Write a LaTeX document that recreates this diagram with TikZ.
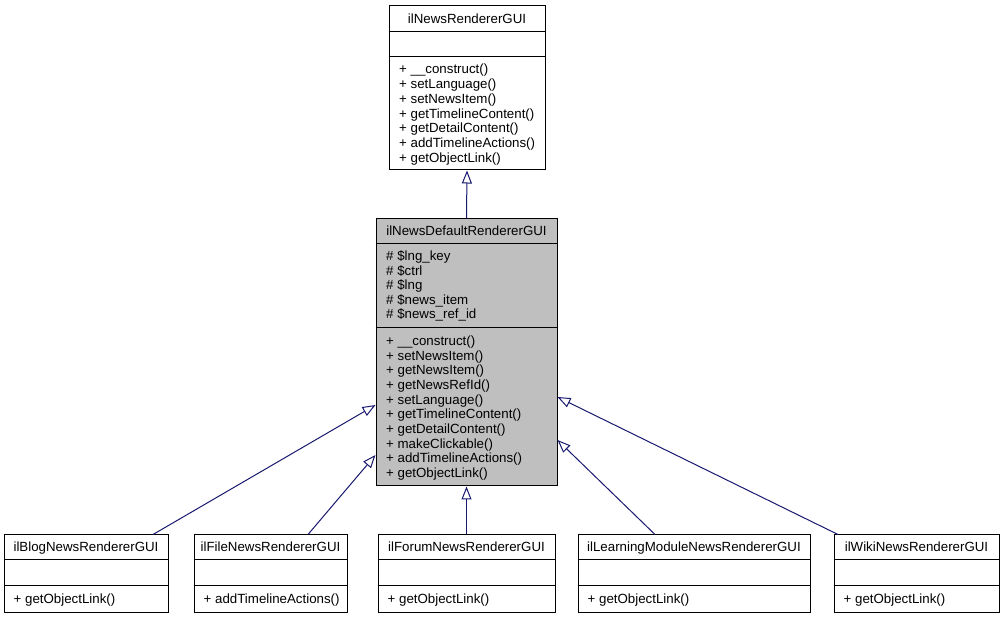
\documentclass[tikz,border=0pt]{standalone}
\usepackage{fontspec}
\setmainfont{Liberation Sans}
\usetikzlibrary{arrows.meta}
\definecolor{edgeblue}{HTML}{191970}
\definecolor{boxgray}{HTML}{BFBFBF}
\tikzset{
  cls/.style={draw=black, line width=1pt, fill=white, rectangle, inner sep=0pt},
  clsmain/.style={cls, fill=boxgray},
  ttl/.style={anchor=base, inner sep=0pt, font=\fontsize{13.3}{14.6}\selectfont},
  mem/.style={anchor=base west, inner sep=0pt, font=\fontsize{13.3}{14.6}\selectfont},
  sep/.style={draw=black, line width=1pt},
  inh/.style={draw=edgeblue, line width=1pt, -{Triangle[open, fill=white, length=13pt, width=10pt]}}
}
\begin{document}
\begin{tikzpicture}[x=1pt, y=-1pt]
\useasboundingbox[fill=white] (0,0) rectangle (1005,617);

% top class
\node[cls, minimum width=156pt, minimum height=164pt] (top) at (467,88) {};
\draw[sep] (top.west |- 0,32) -- (top.east |- 0,32);
\draw[sep] (top.west |- 0,57) -- (top.east |- 0,57);
\node[ttl] (top-t) at (467,23.5) {ilNewsRendererGUI};
\foreach \t [count=\i from 0] in {{+ \_\_construct()},{+ setLanguage()},{+ setNewsItem()},{+ getTimelineContent()},{+ getDetailContent()},{+ addTimelineActions()},{+ getObjectLink()}}
  \node[mem] (top-m\i) at (399,{74+14.67*\i}) {\t};

% middle class
\node[clsmain, minimum width=181pt, minimum height=267pt] (mid) at (466.5,352.5) {};
\draw[sep] (mid.west |- 0,244) -- (mid.east |- 0,244);
\draw[sep] (mid.west |- 0,328) -- (mid.east |- 0,328);
\node[ttl] (mid-t) at (466.5,236) {ilNewsDefaultRendererGUI};
\foreach \t [count=\i from 0] in {{\# \$lng\_key},{\# \$ctrl},{\# \$lng},{\# \$news\_item},{\# \$news\_ref\_id}}
  \node[mem] (mid-a\i) at (386,{261+14.5*\i}) {\t};
\foreach \t [count=\i from 0] in {{+ \_\_construct()},{+ setNewsItem()},{+ getNewsItem()},{+ getNewsRefId()},{+ setLanguage()},{+ getTimelineContent()},{+ getDetailContent()},{+ makeClickable()},{+ addTimelineActions()},{+ getObjectLink()}}
  \node[mem] (mid-m\i) at (386,{345.5+14.67*\i}) {\t};

% bottom classes
\foreach \n/\cx/\w/\ttxt/\mtxt in {
  blog/86/164/ilBlogNewsRendererGUI/{+ getObjectLink()},
  file/270.5/153/ilFileNewsRendererGUI/{+ addTimelineActions()},
  forum/466.5/177/ilForumNewsRendererGUI/{+ getObjectLink()},
  learn/694/232/ilLearningModuleNewsRendererGUI/{+ getObjectLink()},
  wiki/916.5/165/ilWikiNewsRendererGUI/{+ getObjectLink()}} {
  \node[cls, minimum width=\w pt, minimum height=77pt] (\n) at (\cx,573.5) {};
  \draw[sep] (\n.west |- 0,560) -- (\n.east |- 0,560);
  \draw[sep] (\n.west |- 0,586) -- (\n.east |- 0,586);
  \node[ttl] (\n-t) at (\cx,552) {\ttxt};
  \node[mem] (\n-m0) at ([xshift=10pt]\n.west |- 0,603.5) {\mtxt};
}

% inheritance edges
\draw[inh] (mid.north) -- (top.south);
\draw[inh] ([xshift=67pt]blog.north) -- ([yshift=-52.5pt]mid.west);
\draw[inh] ([xshift=37.5pt]file.north) -- ([yshift=-102.5pt]mid.west);
\draw[inh] (forum.north) -- (mid.south);
\draw[inh] ([xshift=-39pt]learn.north) -- ([yshift=-87.5pt]mid.east);
\draw[inh] ([xshift=-78.5pt]wiki.north) -- ([yshift=-44.5pt]mid.east);
\end{tikzpicture}
\end{document}
